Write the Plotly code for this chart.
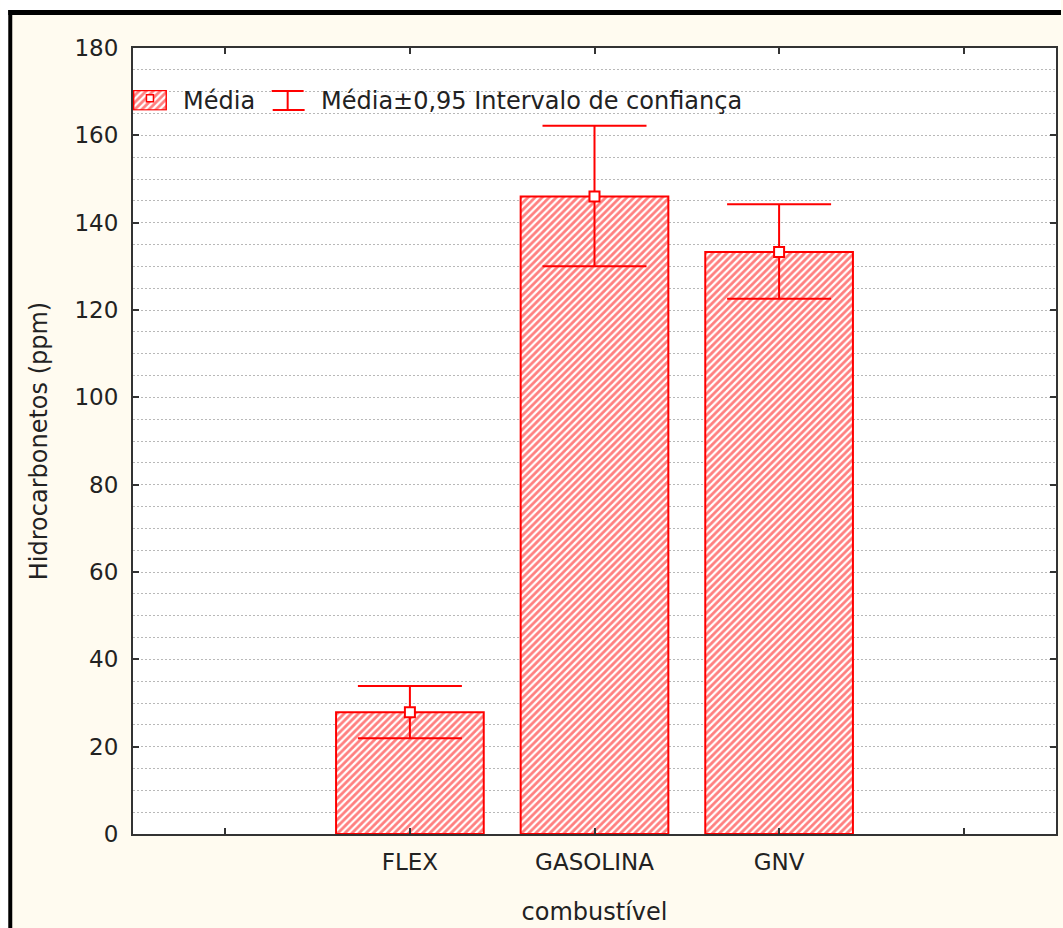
import plotly.graph_objects as go

# ---- data ----
categories = ["FLEX", "GASOLINA", "GNV"]
means = [27.9, 146.0, 133.3]
ci_low = [21.9, 130.0, 122.6]
ci_high = [33.9, 162.2, 144.2]
tick_labels = ["", "FLEX", "GASOLINA", "GNV", ""]
y_title = "Hidrocarbonetos (ppm)"
x_title = "combustível"
legend_mean = "Média"
legend_ci = "Média±0,95 Intervalo de confiança"

RED = "#ff0000"
AX = "#333333"
TXT = "#222222"
FONT = "DejaVu Sans"
W, H = 1063, 928
ML, MR, MT, MB = 133, 5, 48, 94
PW, PH = W - ML - MR, H - MT - MB


def xp(px):
    return (px - ML) / PW


def yp(py):
    return (H - MB - py) / PH


xpos = [i + 1 for i in range(len(categories))]
err_plus = [h - m for h, m in zip(ci_high, means)]
err_minus = [m - l for m, l in zip(means, ci_low)]

hatch = dict(shape="/", fgcolor=RED, bgcolor="white", size=5, solidity=0.55)

fig = go.Figure()
fig.add_trace(go.Bar(
    x=xpos, y=means, width=0.8,
    marker=dict(color="white", line=dict(color=RED, width=2), pattern=hatch),
    showlegend=False, hoverinfo="skip",
))
fig.add_trace(go.Scatter(
    x=xpos, y=means, mode="markers",
    marker=dict(symbol="square", size=10, color="white", line=dict(color=RED, width=2)),
    error_y=dict(type="data", symmetric=False, array=err_plus, arrayminus=err_minus,
                 color=RED, thickness=2, width=52),
    showlegend=False,
))

# legend swatch (mini axes)
fig.add_trace(go.Bar(
    x=[0], y=[1], width=[1], xaxis="x2", yaxis="y2",
    marker=dict(color="white", line=dict(color=RED, width=1.5), pattern=hatch),
    showlegend=False, hoverinfo="skip",
))
fig.add_trace(go.Scatter(
    x=[0], y=[0.6], xaxis="x2", yaxis="y2", mode="markers",
    marker=dict(symbol="square", size=7, color="white", line=dict(color=RED, width=1.5)),
    showlegend=False, hoverinfo="skip",
))

shapes = [
    # white outer strips
    dict(type="rect", xref="paper", yref="paper", x0=xp(0), x1=xp(W), y0=yp(0), y1=yp(10),
         fillcolor="white", line=dict(width=0), layer="below"),
    dict(type="rect", xref="paper", yref="paper", x0=xp(0), x1=xp(8), y0=yp(0), y1=yp(H),
         fillcolor="white", line=dict(width=0), layer="below"),
    # black frame
    dict(type="rect", xref="paper", yref="paper", x0=xp(8), x1=xp(W), y0=yp(10), y1=yp(15),
         fillcolor="black", line=dict(width=0), layer="below"),
    dict(type="rect", xref="paper", yref="paper", x0=xp(8), x1=xp(12), y0=yp(10), y1=yp(H),
         fillcolor="black", line=dict(width=0), layer="below"),
    # I-beam legend icon
    dict(type="line", xref="paper", yref="paper", x0=xp(272), x1=xp(304), y0=yp(91), y1=yp(91),
         line=dict(color=RED, width=2)),
    dict(type="line", xref="paper", yref="paper", x0=xp(288), x1=xp(288), y0=yp(91), y1=yp(110),
         line=dict(color=RED, width=2)),
    dict(type="line", xref="paper", yref="paper", x0=xp(273), x1=xp(305), y0=yp(110), y1=yp(110),
         line=dict(color=RED, width=2)),
]

annotations = [
    dict(text=legend_mean, xref="paper", yref="paper", x=xp(181), y=yp(101),
         xanchor="left", yanchor="middle", showarrow=False, font=dict(family=FONT, size=24, color=TXT)),
    dict(text=legend_ci, xref="paper", yref="paper", x=xp(319), y=yp(101),
         xanchor="left", yanchor="middle", showarrow=False, font=dict(family=FONT, size=24, color=TXT)),
]

fig.update_layout(
    width=W, height=H, autosize=False,
    margin=dict(l=ML, r=MR, t=MT, b=MB, pad=0),
    paper_bgcolor="#fffbf0", plot_bgcolor="white",
    font=dict(family=FONT, size=24, color=TXT),
    showlegend=False, bargap=0.2,
    shapes=shapes, annotations=annotations,
    xaxis=dict(
        range=[-0.5, 4.5], tickmode="array", tickvals=[0, 1, 2, 3, 4], ticktext=tick_labels,
        ticks="inside", ticklen=6, tickwidth=2, tickcolor=AX,
        showline=True, linecolor=AX, linewidth=2, mirror="ticks",
        showgrid=False, zeroline=False, ticklabelstandoff=6,
        tickfont=dict(family=FONT, size=23, color=TXT),
        title=dict(text=x_title, standoff=30, font=dict(family=FONT, size=24, color=TXT)),
    ),
    yaxis=dict(
        range=[0, 180], tick0=0, dtick=20,
        ticks="inside", ticklen=6, tickwidth=2, tickcolor=AX,
        showline=True, linecolor=AX, linewidth=2, mirror="ticks",
        showgrid=True, gridcolor="#b8b8b8", gridwidth=1, griddash="2px,2px",
        minor=dict(dtick=5, showgrid=True, gridcolor="#b8b8b8", gridwidth=1, griddash="2px,2px", ticks=""),
        zeroline=False, ticklabelstandoff=8,
        tickfont=dict(family=FONT, size=23, color=TXT),
        title=dict(text=y_title, standoff=20, font=dict(family=FONT, size=24, color=TXT)),
    ),
    xaxis2=dict(domain=[xp(133), xp(167)], anchor="y2", range=[-0.52, 0.52], visible=False, fixedrange=True),
    yaxis2=dict(domain=[yp(110.5), yp(90)], anchor="x2", range=[-0.02, 1.02], visible=False, fixedrange=True),
)

fig.write_html("out.html", config={"displayModeBar": False},
               post_script="document.body.style.margin='0';document.body.style.padding='0';")
